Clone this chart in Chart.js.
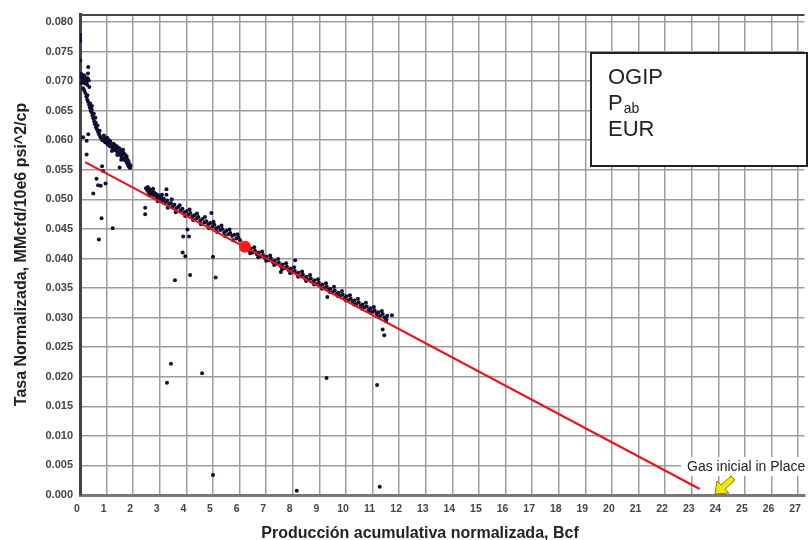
<!DOCTYPE html>
<html>
<head>
<meta charset="utf-8">
<script src="https://cdn.jsdelivr.net/npm/chart.js@4/dist/chart.umd.min.js"></script>
<style>
  body { margin: 0; background: #fff; }
  canvas { display: block; }
</style>
</head>
<body>
<canvas id="RateChart" width="812" height="540"></canvas>
<script>
// early decline points (x = Bcf, y = rate)
const earlyPts = [
  [0.00,0.0778],[0.00,0.0772],[0.01,0.0768],[0.01,0.0735],[0.31,0.0724],[0.30,0.0713],
  [0.05,0.0706],[0.09,0.0702],[0.13,0.0708],[0.17,0.0703],[0.21,0.0706],[0.25,0.0700],
  [0.29,0.0705],[0.33,0.0701],[0.06,0.0697],[0.11,0.0699],[0.19,0.0696],[0.27,0.0694],
  [0.12,0.0688],[0.16,0.0684],[0.20,0.0680],[0.24,0.0674],[0.27,0.0669],[0.30,0.0665],
  [0.34,0.0660],[0.37,0.0655],[0.40,0.0650],[0.44,0.0647],[0.47,0.0642],[0.50,0.0637],
  [0.53,0.0632],[0.56,0.0627],[0.60,0.0622],[0.64,0.0618],[0.68,0.0614],[0.72,0.0610],
  [0.76,0.0606],[0.80,0.0603],[0.84,0.0600],[0.88,0.0602],[0.92,0.0598],[0.96,0.0596],
  [1.00,0.0597],[1.04,0.0593],[1.08,0.0595],[1.12,0.0590],[1.16,0.0592],[1.20,0.0588],
  [1.24,0.0585],[1.28,0.0589],[1.32,0.0583],[1.36,0.0586],[1.40,0.0580],[1.44,0.0577],
  [1.48,0.0581],[1.52,0.0575],[1.56,0.0572],[1.60,0.0576],[1.64,0.0569],[1.68,0.0566],
  [1.72,0.0570],[1.76,0.0562],[1.80,0.0558],[1.84,0.0555],[1.88,0.0553],[0.44,0.0652],
  [0.59,0.0630],[0.95,0.0603],[1.10,0.0600],[1.30,0.0592],[1.50,0.0585],[1.65,0.0578],
  [1.75,0.0573],[1.82,0.0565],
  [0.05,0.0712],[0.15,0.0710],[0.22,0.0698],[0.35,0.0690],[0.28,0.0676],[0.38,0.0662],
  [0.45,0.0658],[0.52,0.0645],[0.58,0.0638],[0.66,0.0625],[0.74,0.0616],[0.90,0.0608],
  [1.02,0.0604],[1.14,0.0598],[1.26,0.0594],[1.38,0.0590],[1.46,0.0587],[1.58,0.0581],
  [1.62,0.0584],[1.70,0.0575],[1.78,0.0568],[1.86,0.0560],[1.90,0.0557],[1.55,0.0567],
  [1.40,0.0575],[1.20,0.0582]
];

// main trend points
const trendPts = [
  [2.48,0.0519],[2.52,0.0516],[2.55,0.0521],[2.58,0.0512],[2.62,0.0517],[2.66,0.0510],
  [2.70,0.0514],[2.74,0.0508],[2.78,0.0512],[2.82,0.0506],[2.86,0.0509],[2.90,0.0503],
  [2.95,0.0507],[3.00,0.0501],[3.05,0.0504],[3.10,0.0498],[3.15,0.0501],[3.22,0.0495],
  [3.28,0.0498],[3.35,0.0492],[3.42,0.0494],[3.48,0.0488],[3.55,0.0491],[3.62,0.0485],
  [3.70,0.0487],[3.78,0.0481],[3.85,0.0484],[3.92,0.0478],[4.00,0.0480],[4.08,0.0474],
  [4.15,0.0477],[4.22,0.0471],[4.30,0.0473],[4.38,0.0468],[4.45,0.0470],[4.52,0.0464],
  [4.60,0.0467],[4.68,0.0461],[4.75,0.0463],[4.82,0.0458],[4.90,0.0460],[4.98,0.0454],
  [5.05,0.0457],[5.12,0.0451],[5.20,0.0453],[5.28,0.0448],[5.35,0.0450],[5.42,0.0444],
  [5.50,0.0447],[5.58,0.0441],[5.65,0.0443],[5.72,0.0438],[5.80,0.0440],[5.88,0.0434],
  [5.95,0.0436],[6.02,0.0431],[6.35,0.0414],[6.42,0.0417],[6.50,0.0410],[6.58,0.0413],
  [6.65,0.0407],[6.72,0.0410],[6.80,0.0404],[6.88,0.0406],[6.95,0.0401],[7.02,0.0403],
  [7.10,0.0397],[7.18,0.0400],[7.25,0.0394],[7.32,0.0396],[7.40,0.0391],[7.48,0.0393],
  [7.55,0.0387],[7.62,0.0390],[7.70,0.0384],[7.78,0.0386],[7.85,0.0380],[7.92,0.0383],
  [8.00,0.0377],[8.08,0.0379],[8.15,0.0374],[8.22,0.0376],[8.30,0.0370],[8.38,0.0373],
  [8.45,0.0367],[8.52,0.0369],[8.60,0.0364],[8.68,0.0366],[8.75,0.0360],[8.82,0.0363],
  [8.90,0.0357],[8.98,0.0359],[9.05,0.0354],[9.12,0.0356],[9.20,0.0350],[9.28,0.0352],
  [9.35,0.0347],[9.42,0.0349],[9.50,0.0343],[9.58,0.0346],[9.65,0.0340],[9.72,0.0342],
  [9.80,0.0337],[9.88,0.0339],[9.95,0.0333],[10.02,0.0336],[10.10,0.0330],[10.18,0.0332],
  [10.25,0.0327],[10.32,0.0329],[10.40,0.0323],[10.48,0.0326],[10.55,0.0320],[10.62,0.0322],
  [10.70,0.0317],[10.78,0.0319],[10.85,0.0313],[10.92,0.0316],[11.00,0.0310],[11.08,0.0312],
  [11.15,0.0307],[11.22,0.0309],[11.30,0.0303],[11.38,0.0306],[11.45,0.0300],[11.52,0.0297],
  [2.60,0.0507],[2.75,0.0518],[2.92,0.0497],[3.08,0.0508],[3.30,0.0486],[3.45,0.0500],
  [3.60,0.0478],[3.75,0.0490],[3.95,0.0472],[4.12,0.0483],[4.25,0.0465],[4.40,0.0476],
  [4.55,0.0458],[4.70,0.0470],[4.85,0.0451],[5.02,0.0462],[5.15,0.0445],[5.32,0.0456],
  [5.45,0.0438],[5.62,0.0449],[5.75,0.0431],[5.92,0.0441],[6.40,0.0409],[6.55,0.0419],
  [6.70,0.0402],[6.85,0.0412],[7.00,0.0396],[7.15,0.0405],[7.30,0.0389],[7.45,0.0399],
  [7.60,0.0382],[7.75,0.0392],[7.90,0.0375],[8.05,0.0385],[8.20,0.0369],[8.35,0.0378],
  [8.50,0.0362],[8.65,0.0372],[8.80,0.0356],[8.95,0.0365],[9.10,0.0349],[9.25,0.0358],
  [9.40,0.0343],[9.55,0.0352],[9.70,0.0336],[9.85,0.0345],[10.00,0.0329],[10.15,0.0338],
  [10.30,0.0322],[10.45,0.0332],[10.60,0.0315],[10.75,0.0325],[10.90,0.0309],[11.05,0.0318],
  [11.20,0.0302],[11.35,0.0311],[11.50,0.0294],[11.55,0.0303]
];

// scattered points off the trend
const outlierPts = [
  [0.12,0.0605],[0.31,0.0610],[0.25,0.0599],[0.25,0.0576],[0.83,0.0556],[0.87,0.0548],
  [0.62,0.0535],[0.68,0.0524],[0.78,0.0523],[0.96,0.0527],[0.50,0.0510],[0.81,0.0468],
  [1.49,0.0554],[0.71,0.0432],[1.23,0.0451],
  [2.45,0.0486],[2.45,0.0475],[3.25,0.0517],[3.25,0.0508],[4.94,0.0477],[4.04,0.0449],
  [3.88,0.0437],[4.10,0.0437],[3.86,0.0410],[3.96,0.0404],[5.00,0.0403],[8.09,0.0397],
  [11.44,0.0270],[11.38,0.0280],[11.73,0.0304],[7.55,0.0377],[9.30,0.0335],
  [3.57,0.0363],[4.14,0.0372],[5.10,0.0368],[3.42,0.0222],[3.27,0.0190],[4.59,0.0206],
  [9.27,0.0198],[11.17,0.0186],[5.00,0.0034],[8.15,0.0007],[11.27,0.0014]
];

// straight-line fit and the marked point
const fitX = [0.19, 23.3];
const fitY = [0.0563, 0.0010];
const markX = [6.2];
const markY = [0.0420];

const xTitle = 'Producción acumulativa normalizada, Bcf';
const yTitle = 'Tasa Normalizada, MMcfd/10e6 psi^2/cp';
const boxLines = ['OGIP', 'P', 'EUR'];
const noteText = 'Gas inicial in Place';

const FONT = 'Arial, "Liberation Sans", sans-serif';
const toXY = pts => pts.map(p => ({x: p[0], y: p[1]}));

// legend box, note, arrow, x title, top border
const overlay = {
  id: 'overlay',
  afterDraw(chart) {
    const c = chart.ctx;
    const a = chart.chartArea;
    c.save();
    // top border
    c.strokeStyle = '#444';
    c.lineWidth = 2;
    c.beginPath();
    c.moveTo(a.left, a.top + 1);
    c.lineTo(a.right, a.top + 1);
    c.stroke();

    // info box
    c.fillStyle = '#fff';
    c.fillRect(591, 53, 216, 113);
    c.strokeStyle = '#222';
    c.lineWidth = 2;
    c.strokeRect(591, 53, 216, 113);
    c.fillStyle = '#222';
    c.font = '22px ' + FONT;
    c.textBaseline = 'alphabetic';
    c.fillText(boxLines[0], 608, 84);
    c.fillText(boxLines[1], 608, 110);
    const pw = c.measureText(boxLines[1]).width;
    c.font = '14px ' + FONT;
    c.fillText('ab', 608 + pw + 1, 113);
    c.font = '22px ' + FONT;
    c.fillText(boxLines[2], 608, 136);

    // note
    c.fillStyle = '#fff';
    c.fillRect(681, 457, 131, 19);
    c.fillStyle = '#222';
    c.font = '14px ' + FONT;
    c.fillText(noteText, 687, 471);

    // yellow arrow
    c.fillStyle = '#f2e600';
    c.strokeStyle = '#8a8000';
    c.lineWidth = 1;
    c.beginPath();
    c.moveTo(715, 494);
    c.lineTo(717, 481);
    c.lineTo(721, 485);
    c.lineTo(731, 476);
    c.lineTo(735, 480);
    c.lineTo(725, 489);
    c.lineTo(729, 493);
    c.closePath();
    c.fill();
    c.stroke();

    // x axis title
    c.fillStyle = '#222';
    c.font = 'bold 16px ' + FONT;
    c.textAlign = 'center';
    c.fillText(xTitle, 420, 538);
    c.restore();
  }
};

const ctx = document.getElementById('RateChart').getContext('2d');

new Chart(ctx, {
  type: 'scatter',
  data: {
    datasets: [
      {
        label: 'data',
        data: toXY(earlyPts.concat(trendPts, outlierPts)),
        backgroundColor: '#101030',
        borderWidth: 0,
        pointRadius: 2,
        order: 3
      },
      {
        label: 'fit',
        type: 'line',
        data: fitX.map((x, i) => ({x: x, y: fitY[i]})),
        borderColor: '#e8141a',
        borderWidth: 2.2,
        pointRadius: 0,
        order: 2
      },
      {
        label: 'mark',
        data: markX.map((x, i) => ({x: x, y: markY[i]})),
        backgroundColor: '#ff1a1a',
        borderWidth: 0,
        pointRadius: 6,
        order: 1
      }
    ]
  },
  options: {
    responsive: false,
    animation: false,
    layout: { padding: { top: 14, left: 0, right: 0, bottom: 0 } },
    scales: {
      x: {
        type: 'linear',
        min: 0,
        max: 27.24,
        afterFit: s => { s.height = 45; },
        grid: { color: '#9c9c9c', lineWidth: 1.5, drawTicks: false },
        border: { color: '#777', width: 3 },
        ticks: {
          stepSize: 1,
          includeBounds: false,
          padding: 8,
          labelOffset: -3,
          maxRotation: 0,
          autoSkip: false,
          color: '#444',
          font: { family: FONT, size: 10.5, weight: 'bold' }
        },
        title: { display: false }
      },
      y: {
        min: 0,
        max: 0.08135,
        afterFit: s => { s.width = 80; },
        grid: { color: '#9c9c9c', lineWidth: 1.5, drawTicks: false },
        border: { color: '#444', width: 3 },
        ticks: {
          stepSize: 0.005,
          includeBounds: false,
          padding: 7,
          color: '#444',
          font: { family: FONT, size: 11, weight: 'bold' },
          callback: v => v.toFixed(3)
        },
        title: {
          display: true,
          text: yTitle,
          color: '#222',
          padding: { top: 12, bottom: 0 },
          font: { family: FONT, size: 16, weight: 'bold' }
        }
      }
    },
    plugins: {
      legend: { display: false },
      tooltip: { enabled: false }
    }
  },
  plugins: [overlay]
});
</script>
</body>
</html>
